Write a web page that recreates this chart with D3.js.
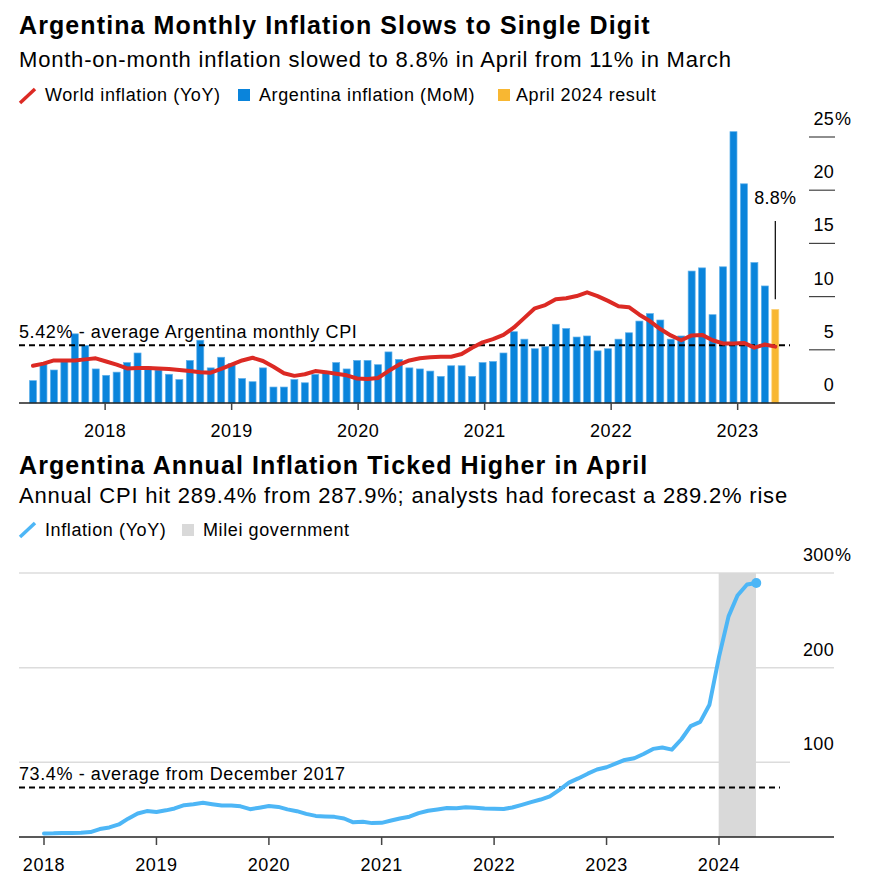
<!DOCTYPE html>
<html>
<head>
<meta charset="utf-8">
<script src="https://cdn.jsdelivr.net/npm/d3@7"></script>
<style>
  html, body { margin: 0; padding: 0; background: #fff; }
  svg { display: block; font-family: "Liberation Sans", Arial, sans-serif; }
</style>
</head>
<body>
<svg id="chart" width="870" height="889"></svg>
<script>
// ---------- Top chart data (May 2018 – Apr 2024) ----------
const argMoM = [
  2.1, 3.7, 3.1, 3.9, 6.5, 5.4, 3.2, 2.6,
  2.9, 3.8, 4.7, 3.4, 3.1, 2.7, 2.2, 4.0, 5.9, 3.3, 4.3, 3.7,
  2.3, 2.0, 3.3, 1.5, 1.5, 2.2, 1.9, 2.7, 2.8, 3.8, 3.2, 4.0,
  4.0, 3.6, 4.8, 4.1, 3.3, 3.2, 3.0, 2.5, 3.5, 3.5, 2.5, 3.8,
  3.9, 4.7, 6.7, 6.0, 5.1, 5.3, 7.4, 7.0, 6.2, 6.3, 4.9, 5.1,
  6.0, 6.6, 7.7, 8.4, 7.8, 6.0, 6.3, 12.4, 12.7, 8.3, 12.8, 25.5,
  20.6, 13.2, 11.0, 8.8
];
const worldYoY = [
  3.5, 3.7, 4.0, 4.0, 4.0, 4.1, 4.2, 3.9,
  3.6, 3.25, 3.3, 3.3, 3.25, 3.2, 3.1, 3.0, 2.9, 2.85, 3.2, 3.6,
  4.0, 4.25, 3.95, 3.4, 2.8, 2.55, 2.7, 3.0, 2.9, 2.75, 2.6, 2.3,
  2.25, 2.35, 3.0, 3.6, 4.0, 4.2, 4.3, 4.35, 4.35, 4.6, 5.2, 5.7,
  6.0, 6.4, 7.1, 8.0, 8.9, 9.2, 9.75, 9.85, 10.05, 10.4, 10.05, 9.6,
  9.1, 9.0, 8.3, 7.7, 6.95, 6.35, 5.9, 6.35, 6.4, 5.9, 5.6, 5.6,
  5.65, 5.2, 5.5, 5.3
];
const topMonths = d3.timeMonth.range(new Date(2018, 4, 1), new Date(2024, 4, 1));
const topTickLabels = ["2018", "2019", "2020", "2021", "2022", "2023"];
const topTickPos = [6.9, 19.0, 31.1, 43.2, 55.3, 67.4];   // month-index positions
const topYTicks = [0, 5, 10, 15, 20, 25];
const avgMoM = 5.42;
const latestMoM = 8.8;

// ---------- Bottom chart data (Dec 2017 – Apr 2024, month-end) ----------
const argYoY = [
  24.8,
  25.0, 25.4, 25.4, 25.5, 26.3, 29.5, 31.2, 34.4, 40.5, 45.9, 48.5, 47.6,
  49.3, 51.3, 54.7, 55.8, 57.3, 55.8, 54.4, 54.5, 53.5, 50.5, 52.1, 53.8,
  52.9, 50.3, 48.4, 45.6, 43.4, 42.8, 42.4, 40.7, 36.6, 37.2, 35.8, 36.1,
  38.5, 40.7, 42.6, 46.3, 48.8, 50.2, 51.8, 51.4, 52.5, 52.1, 51.2, 50.9,
  50.7, 52.3, 55.1, 58.0, 60.7, 64.0, 71.0, 78.5, 83.0, 88.0, 92.4, 94.8,
  98.8, 102.5, 104.3, 108.8, 114.2, 115.6, 113.4, 124.4, 138.3, 142.7, 160.9, 211.4,
  254.2, 276.2, 287.9, 289.4
];
const bottomDates = d3.timeMonth.range(new Date(2018, 0, 1), new Date(2024, 4, 2)); // month ends
const bottomTickYears = [2018, 2019, 2020, 2021, 2022, 2023, 2024];
const bottomYTicks = [100, 200, 300];
const avgYoY = 73.4;
const mileiStart = new Date(2023, 11, 31);
const mileiEnd = new Date(2024, 3, 30);

// ---------- Colours ----------
const C_BAR = "#0a84db", C_BAR_EDGE = "#5fb0ea", C_ORANGE = "#f8b732",
      C_RED = "#dc2a24", C_LBLUE = "#4db6f6", C_SHADE = "#d9d9d9", C_GRID = "#dcdcdc";

const svg = d3.select("#chart");
const LS = 0.6; // letter spacing for 18px labels

function label(sel) { return sel.attr("font-size", 18).attr("letter-spacing", LS).attr("fill", "#000"); }

// ---------- Headings ----------
function heading(y1, t, y2, s) {
  svg.append("text").attr("x", 19).attr("y", y1).attr("font-size", 25).attr("font-weight", "bold")
    .attr("letter-spacing", 1.1).attr("fill", "#000").text(t);
  svg.append("text").attr("x", 19).attr("y", y2).attr("font-size", 22)
    .attr("letter-spacing", 0.8).attr("fill", "#000").text(s);
}
heading(34, "Argentina Monthly Inflation Slows to Single Digit",
        67, "Month-on-month inflation slowed to 8.8% in April from 11% in March");
heading(474, "Argentina Annual Inflation Ticked Higher in April",
        503, "Annual CPI hit 289.4% from 287.9%; analysts had forecast a 289.2% rise");

// ---------- Legends ----------
function legSlash(x, y, color) {
  svg.append("line").attr("x1", x).attr("y1", y + 14).attr("x2", x + 15).attr("y2", y)
    .attr("stroke", color).attr("stroke-width", 3.5).attr("stroke-linecap", "butt");
}
function legSquare(x, y, color) {
  svg.append("rect").attr("x", x).attr("y", y).attr("width", 12).attr("height", 12).attr("fill", color);
}
function legText(x, y, t) {
  label(svg.append("text").attr("x", x).attr("y", y)).text(t);
}
legSlash(20, 89, C_RED);       legText(45, 101, "World inflation (YoY)");
legSquare(238, 89, C_BAR);     legText(259, 101, "Argentina inflation (MoM)");
legSquare(498, 89, C_ORANGE);  legText(516, 101, "April 2024 result");

legSlash(20, 523, C_LBLUE);    legText(45, 536, "Inflation (YoY)");
legSquare(182, 524, C_SHADE);  legText(203, 536, "Milei government");

// ---------- Top chart ----------
const xT = d3.scaleLinear().domain([0, 71]).range([33, 775.3]);
const yT = d3.scaleLinear().domain([0, 25]).range([403, 137]);
const barW = 7;

const gTop = svg.append("g");
// right-side ticks
gTop.selectAll("line.ytick").data(topYTicks.filter(d => d > 0)).join("line")
  .attr("x1", 809).attr("x2", 835).attr("y1", d => yT(d)).attr("y2", d => yT(d))
  .attr("stroke", "#444").attr("stroke-width", 1.2);
label(gTop.selectAll("text.ylab").data(topYTicks).join("text")
  .attr("x", 834).attr("y", d => yT(d) - 12).attr("text-anchor", "end")).attr("letter-spacing", 0.3).text(d => d);
label(gTop.append("text").attr("x", 835).attr("y", yT(25) - 12)).attr("letter-spacing", 0).text("%");

// bars
gTop.selectAll("rect.bar").data(argMoM).join("rect")
  .attr("x", (d, i) => xT(i) - barW / 2).attr("width", barW)
  .attr("y", d => yT(d)).attr("height", d => yT(0) - yT(d))
  .attr("fill", (d, i) => i === argMoM.length - 1 ? C_ORANGE : C_BAR)
  .attr("stroke", (d, i) => i === argMoM.length - 1 ? "#fbd27a" : C_BAR_EDGE)
  .attr("stroke-width", 0.7);

// average dashed line
gTop.append("line").attr("x1", 19).attr("x2", 790).attr("y1", yT(avgMoM)).attr("y2", yT(avgMoM))
  .attr("stroke", "#000").attr("stroke-width", 2).attr("stroke-dasharray", "6,4");
label(gTop.append("text").attr("x", 19).attr("y", yT(avgMoM) - 7))
  .text(avgMoM.toFixed(2) + "% - average Argentina monthly CPI");

// world inflation line
gTop.append("path").datum(worldYoY)
  .attr("d", d3.line().x((d, i) => xT(i)).y(d => yT(d)).curve(d3.curveLinear))
  .attr("fill", "none").attr("stroke", C_RED).attr("stroke-width", 4)
  .attr("stroke-linejoin", "round").attr("stroke-linecap", "round");

// annotation
gTop.append("line").attr("x1", xT(71)).attr("x2", xT(71)).attr("y1", 221).attr("y2", yT(latestMoM) - 10)
  .attr("stroke", "#000").attr("stroke-width", 1.2);
label(gTop.append("text").attr("x", xT(71)).attr("y", 204).attr("text-anchor", "middle"))
  .attr("letter-spacing", 0.3).text(latestMoM + "%");

// x axis
gTop.append("line").attr("x1", 19).attr("x2", 835).attr("y1", yT(0)).attr("y2", yT(0))
  .attr("stroke", "#222").attr("stroke-width", 1.6);
gTop.selectAll("line.xtick").data(topTickPos).join("line")
  .attr("x1", d => xT(d)).attr("x2", d => xT(d)).attr("y1", yT(0)).attr("y2", yT(0) + 7)
  .attr("stroke", "#444").attr("stroke-width", 1.5);
label(gTop.selectAll("text.xlab").data(topTickPos).join("text")
  .attr("x", d => xT(d)).attr("y", 437).attr("text-anchor", "middle")).text((d, i) => topTickLabels[i]);

// ---------- Bottom chart ----------
const xB = d3.scaleTime().domain([new Date(2018, 0, 1), new Date(2024, 0, 1)]).range([44, 719]);
const yB = d3.scaleLinear().domain([0, 300]).range([857, 573]);
const gBot = svg.append("g");

// gridlines
gBot.selectAll("line.grid").data(bottomYTicks).join("line")
  .attr("x1", 19).attr("x2", d => d === 100 ? 790 : 834).attr("y1", d => yB(d)).attr("y2", d => yB(d))
  .attr("stroke", C_GRID).attr("stroke-width", 1.5);
label(gBot.selectAll("text.ylab").data(bottomYTicks).join("text")
  .attr("x", 834).attr("y", d => yB(d) - 12).attr("text-anchor", "end")).attr("letter-spacing", 0.3).text(d => d);
label(gBot.append("text").attr("x", 835).attr("y", yB(300) - 12)).attr("letter-spacing", 0).text("%");

// Milei shade
gBot.append("rect").attr("x", xB(mileiStart)).attr("width", xB(mileiEnd) - xB(mileiStart))
  .attr("y", yB(300)).attr("height", 837 - yB(300)).attr("fill", C_SHADE);

// average dashed line
gBot.append("line").attr("x1", 19).attr("x2", 780).attr("y1", yB(avgYoY)).attr("y2", yB(avgYoY))
  .attr("stroke", "#000").attr("stroke-width", 2).attr("stroke-dasharray", "6,4");
label(gBot.append("text").attr("x", 19).attr("y", yB(avgYoY) - 8))
  .text(avgYoY + "% - average from December 2017");

// line
gBot.append("path").datum(argYoY)
  .attr("d", d3.line().x((d, i) => xB(bottomDates[i])).y(d => yB(d)))
  .attr("fill", "none").attr("stroke", C_LBLUE).attr("stroke-width", 4)
  .attr("stroke-linejoin", "round").attr("stroke-linecap", "round");
gBot.append("circle").attr("cx", xB(bottomDates[bottomDates.length - 1]))
  .attr("cy", yB(argYoY[argYoY.length - 1])).attr("r", 5).attr("fill", C_LBLUE);

// x axis
gBot.append("line").attr("x1", 19).attr("x2", 834).attr("y1", 837).attr("y2", 837)
  .attr("stroke", "#222").attr("stroke-width", 1.6);
gBot.selectAll("line.xtick").data(bottomTickYears).join("line")
  .attr("x1", d => xB(new Date(d, 0, 1))).attr("x2", d => xB(new Date(d, 0, 1)))
  .attr("y1", 837).attr("y2", 845).attr("stroke", "#444").attr("stroke-width", 1.5);
label(gBot.selectAll("text.xlab").data(bottomTickYears).join("text")
  .attr("x", d => xB(new Date(d, 0, 1))).attr("y", 871).attr("text-anchor", "middle")).text(d => d);
</script>
</body>
</html>
